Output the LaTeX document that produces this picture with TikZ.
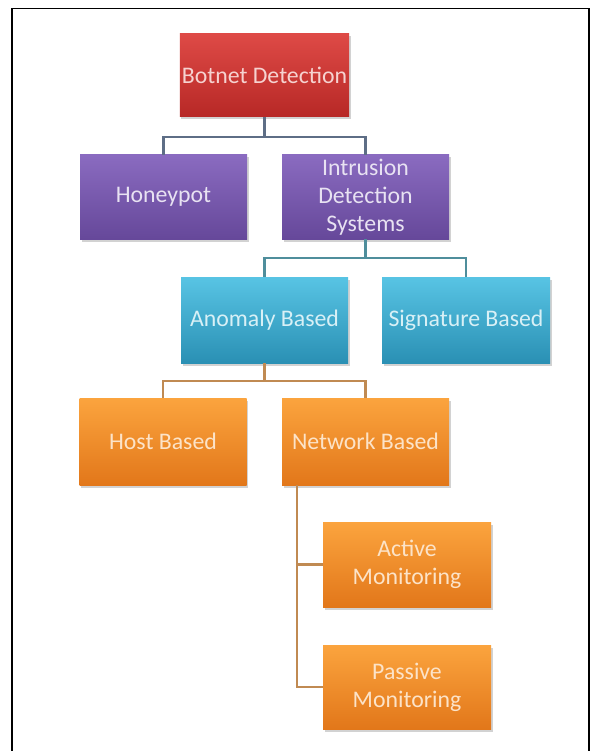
\documentclass[tikz,border=0pt]{standalone}
\usepackage{fontspec}
\setmainfont{Carlito}
\usetikzlibrary{shadows}
\definecolor{redT}{HTML}{DE4A46}
\definecolor{redB}{HTML}{B72826}
\definecolor{purT}{HTML}{8A6BC0}
\definecolor{purB}{HTML}{66489A}
\definecolor{aquT}{HTML}{58C4E4}
\definecolor{aquB}{HTML}{2A90B4}
\definecolor{orgT}{HTML}{FBA43E}
\definecolor{orgB}{HTML}{E2771A}
\definecolor{txR}{HTML}{F6D2D0}
\definecolor{txP}{HTML}{E8E2F2}
\definecolor{txA}{HTML}{D8F0F6}
\definecolor{txO}{HTML}{FCE3C8}
\definecolor{lnP}{HTML}{5E6E86}
\definecolor{lnA}{HTML}{4F8E9C}
\definecolor{lnO}{HTML}{C08A52}
\tikzset{
  box/.style={rectangle, align=center, inner sep=2pt,
    font=\fontsize{23.8}{28}\selectfont,
    drop shadow={shadow xshift=1.5pt, shadow yshift=-2.5pt, opacity=0.35}},
  redbox/.style={box, top color=redT, bottom color=redB, text=txR, minimum width=167pt, minimum height=83pt},
  purbox/.style={box, top color=purT, bottom color=purB, text=txP, minimum width=167pt, minimum height=84pt},
  aqubox/.style={box, top color=aquT, bottom color=aquB, text=txA, minimum width=167pt, minimum height=86pt},
  orgbox/.style={box, top color=orgT, bottom color=orgB, text=txO, minimum width=167pt, minimum height=87pt},
  conn/.style={line width=2.3pt},
}
\begin{document}
\begin{tikzpicture}[x=1pt,y=-1pt]
\useasboundingbox (0,0) rectangle (592,751);
\fill[white] (0,0) rectangle (592,751);
\draw[line width=1.8pt, black] (12,760) -- (12,8.5) -- (589,8.5) -- (589,760);
% nodes
\node[redbox] (bot) at (264.5,75.5) {Botnet Detection};
\node[purbox] (hp) at (163.5,197) {Honeypot};
\node[purbox] (ids) at (365.5,197) {Intrusion\\Detection\\Systems};
\node[aqubox] (ano) at (264.5,320) {Anomaly Based};
\node[aqubox, minimum width=168pt] (sig) at (466,320) {Signature Based};
\node[orgbox] (host) at (163,441.5) {Host Based};
\node[orgbox] (net) at (365.5,441.5) {Network Based};
\node[orgbox, minimum width=168pt, minimum height=85pt] (act) at (407,564.5) {Active\\Monitoring};
\node[orgbox, minimum width=168pt, minimum height=84pt] (pas) at (407,687) {Passive\\Monitoring};
% connectors
\draw[conn, lnP] (bot.south) -- ++(0,20) -| (hp.north);
\draw[conn, lnP] (bot.south) -- ++(0,20) -| (ids.north);
\draw[conn, lnA] (ids.south) -- ++(0,19) -| (ano.north);
\draw[conn, lnA] (ids.south) -- ++(0,19) -| (sig.north);
\draw[conn, lnO] (ano.south) -- ++(0,18) -| (host.north);
\draw[conn, lnO] (ano.south) -- ++(0,18) -| (net.north);
\coordinate (nb) at ([xshift=15pt]net.south west);
\draw[conn, lnO] (nb) |- (act.west);
\draw[conn, lnO] (nb) |- (pas.west);
\end{tikzpicture}
\end{document}
